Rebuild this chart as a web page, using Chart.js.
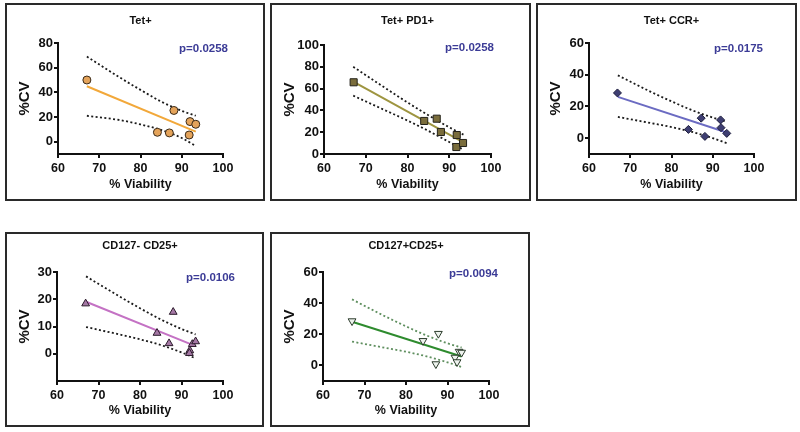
<!DOCTYPE html>
<html><head><meta charset="utf-8">
<script src="https://cdn.jsdelivr.net/npm/chart.js@4"></script>
<style>
html,body{margin:0;padding:0;background:#fff;}
body{width:800px;height:432px;position:relative;overflow:hidden;}
.panel{position:absolute;box-sizing:border-box;border:2px solid #2a2a2a;background:#fff;}
.panel canvas{display:block;}
</style></head><body>
<div class="panel" style="left:5px;top:3px;width:260px;height:198px"><canvas id="c1" width="256" height="194"></canvas></div>
<div class="panel" style="left:270px;top:3px;width:261px;height:198px"><canvas id="c2" width="257" height="194"></canvas></div>
<div class="panel" style="left:536px;top:3px;width:261px;height:198px"><canvas id="c3" width="257" height="194"></canvas></div>
<div class="panel" style="left:5px;top:232px;width:259px;height:195px"><canvas id="c4" width="255" height="191"></canvas></div>
<div class="panel" style="left:270px;top:232px;width:260px;height:195px"><canvas id="c5" width="256" height="191"></canvas></div>
<script>
// ---------- data ----------
const xTickValues = [60, 70, 80, 90, 100];
const bandX = [67, 75, 80, 85, 90, 93.4];
const fitX = [67, 93.4];

// Tet+
const tetViability = [67, 84.1, 87, 88.1, 91.8, 92, 93.4];
const tetCV = [50, 7.6, 7.1, 25.3, 5.4, 16.3, 14.1];
const tetFit = [44.9, 8.2];
const tetUpper = [69, 52, 42, 32.5, 25, 21];
const tetLower = [21, 17.5, 14, 9.5, 3, -3.5];
const tetYTicks = [0, 20, 40, 60, 80];

// Tet+ PD1+
const pd1Viability = [67.1, 84, 87, 88, 91.8, 91.7, 93.3];
const pd1CV = [65.8, 30.3, 32.4, 20.2, 17.4, 6.4, 10.1];
const pd1Fit = [66.5, 10.7];
const pd1Upper = [80, 59.7, 47.3, 35.5, 24.5, 17.8];
const pd1Lower = [53.5, 39.5, 30.7, 21.2, 11, 4];
const pd1YTicks = [0, 20, 40, 60, 80, 100];

// Tet+ CCR+
const ccrViability = [66.9, 84.1, 87.2, 88.1, 91.9, 92, 93.4];
const ccrCV = [28.5, 5.5, 12.6, 1.1, 11.5, 6.6, 3.0];
const ccrFit = [26, 3.6];
const ccrUpper = [39.6, 29.2, 23.2, 17.6, 13, 10.3];
const ccrLower = [13.4, 9.5, 7, 3.9, 0, -3.2];
const ccrYTicks = [0, 20, 40, 60];

// CD127- CD25+
const negViability = [66.9, 84.1, 87, 88, 92, 91.9, 92.6, 93.4];
const negCV = [18.4, 7.6, 3.8, 15.3, 1.2, 0.2, 3.5, 4.5];
const negFit = [19.1, 2.8];
const negUpper = [28.4, 21.1, 16.7, 12.6, 9.1, 7.1];
const negLower = [9.8, 7.1, 5.3, 3.2, 0.5, -1.7];
const negYTicks = [0, 10, 20, 30];

// CD127+CD25+
const posViability = [67, 84.1, 87.8, 87.2, 91.8, 92.3, 92.8, 93.4];
const posCV = [28.5, 15.8, 20.4, 0.9, 5.1, 2.2, 8.9, 8.3];
const posFit = [28.1, 5.7];
const posUpper = [42.4, 31.5, 25.1, 19.2, 14.2, 11.5];
const posLower = [15.3, 11.3, 8.8, 5.8, 2, -1];
const posYTicks = [0, 20, 40, 60];

// ---------- panels ----------
const FONT = '"Liberation Sans", Arial, sans-serif';
const panels = [
  {id:'c1', title:'Tet+', p:'p=0.0258', vx:tetViability, vy:tetCV, fit:tetFit, up:tetUpper, lo:tetLower,
   yMin:-10, yMax:80, yTicks:tetYTicks,
   st:{shape:'circle', r:4, rot:0, fill:'#e4a35a', edge:'#3a2a18', line:'#f2a83a', band:'#1a1a1a'},
   g:{left:51, right:216, top:38, bottom:149, tTop:9, pdx:5, pdy:6}},
  {id:'c2', title:'Tet+ PD1+', p:'p=0.0258', vx:pd1Viability, vy:pd1CV, fit:pd1Fit, up:pd1Upper, lo:pd1Lower,
   yMin:0, yMax:100, yTicks:pd1YTicks,
   st:{shape:'rect', r:5, rot:0, fill:'#7a6d3c', edge:'#24221a', line:'#9e9540', band:'#1a1a1a'},
   g:{left:52, right:219, top:40, bottom:149, tTop:9, pdx:3, pdy:2.5}},
  {id:'c3', title:'Tet+ CCR+', p:'p=0.0175', vx:ccrViability, vy:ccrCV, fit:ccrFit, up:ccrUpper, lo:ccrLower,
   yMin:-10, yMax:60, yTicks:ccrYTicks,
   st:{shape:'rectRot', r:4, rot:0, fill:'#3e3e72', edge:'#1c1c3c', line:'#6b6bc2', band:'#1a1a1a'},
   g:{left:51, right:216, top:38, bottom:149, tTop:9, pdx:9, pdy:6}},
  {id:'c4', title:'CD127- CD25+', p:'p=0.0106', vx:negViability, vy:negCV, fit:negFit, up:negUpper, lo:negLower,
   yMin:-10, yMax:30, yTicks:negYTicks,
   st:{shape:'triangle', r:4.5, rot:0, fill:'#a578a5', edge:'#2a1a2a', line:'#c472c4', band:'#1a1a1a'},
   g:{left:50, right:216, top:38, bottom:147, tTop:5.5, pdx:12, pdy:5.5}},
  {id:'c5', title:'CD127+CD25+', p:'p=0.0094', vx:posViability, vy:posCV, fit:posFit, up:posUpper, lo:posLower,
   yMin:-10, yMax:60, yTicks:posYTicks,
   st:{shape:'triangle', r:4.5, rot:180, fill:'#eef3ee', edge:'#2a3a2a', line:'#2e8b2e', band:'#5f8f5f'},
   g:{left:51, right:217, top:38, bottom:147, tTop:5.5, pdx:9, pdy:1.5}}
];

const pvaluePlugin = {
  id: 'pvalue',
  afterDraw(chart, args, opts) {
    const ctx = chart.ctx, a = chart.chartArea;
    ctx.save();
    ctx.font = 'bold 11.5px ' + FONT;
    ctx.fillStyle = '#3b3b96';
    ctx.textAlign = 'right';
    ctx.textBaseline = 'middle';
    ctx.fillText(opts.text, a.right + opts.dx, a.top + opts.dy);
    ctx.restore();
  }
};

function pts(xs, ys) { return xs.map((x, i) => ({x: x, y: ys[i]})); }

panels.forEach(P => {
  const cv = document.getElementById(P.id);
  const W = cv.width, H = cv.height, g = P.g, s = P.st;
  const titleSize = 11, titleLH = titleSize * 1.2;
  const bandStyle = {
    showLine: true, pointRadius: 0, borderColor: s.band, borderWidth: 1.8,
    borderDash: [2, 2.4], cubicInterpolationMode: 'monotone', fill: false, order: 3
  };
  new Chart(cv, {
    type: 'scatter',
    data: {
      datasets: [
        Object.assign({data: pts(bandX, P.up)}, bandStyle),
        Object.assign({data: pts(bandX, P.lo)}, bandStyle),
        {data: pts(fitX, P.fit), showLine: true, pointRadius: 0, borderColor: s.line, borderWidth: 2, order: 2},
        {data: pts(P.vx, P.vy), showLine: false, pointStyle: s.shape, pointRadius: s.r, pointRotation: s.rot,
         pointBackgroundColor: s.fill, pointBorderColor: s.edge, pointBorderWidth: 1, order: 1}
      ]
    },
    options: {
      responsive: false, animation: false, devicePixelRatio: 1,
      layout: {padding: {left: 0, top: 0, bottom: 0, right: W - g.right}},
      plugins: {
        legend: {display: false}, tooltip: {enabled: false},
        title: {display: true, text: P.title, fullSize: false, color: '#111',
                font: {family: FONT, size: titleSize, weight: 'bold', lineHeight: 1.2},
                padding: {top: g.tTop, bottom: g.top - g.tTop - titleLH}},
        pvalue: {text: P.p, dx: g.pdx, dy: g.pdy}
      },
      scales: {
        x: {
          type: 'linear', min: 60, max: 100,
          afterFit: sc => { sc.height = H - g.bottom; },
          afterBuildTicks: sc => { sc.ticks = xTickValues.map(v => ({value: v})); },
          grid: {display: true, drawOnChartArea: false, drawTicks: true, tickLength: 4, color: '#111', lineWidth: 2},
          border: {display: true, color: '#111', width: 2},
          ticks: {color: '#111', padding: 3, maxRotation: 0, font: {family: FONT, size: 12.5, weight: 'bold'}},
          title: {display: true, text: '% Viability', color: '#111',
                  font: {family: FONT, size: 12.5, weight: 'bold', lineHeight: 1.2},
                  padding: {top: 0, bottom: 7}}
        },
        y: {
          type: 'linear', min: P.yMin, max: P.yMax,
          afterFit: sc => { sc.width = g.left; },
          afterBuildTicks: sc => { sc.ticks = P.yTicks.map(v => ({value: v})); },
          grid: {display: true, drawOnChartArea: false, drawTicks: true, tickLength: 4, color: '#111', lineWidth: 2},
          border: {display: true, color: '#111', width: 2},
          ticks: {color: '#111', padding: 1, font: {family: FONT, size: 13, weight: 'bold'}},
          title: {display: true, text: '%CV', color: '#111',
                  font: {family: FONT, size: 15, weight: 'bold', lineHeight: 1.2},
                  padding: {top: 9, bottom: 0}}
        }
      }
    },
    plugins: [pvaluePlugin]
  });
});
</script>
</body></html>
